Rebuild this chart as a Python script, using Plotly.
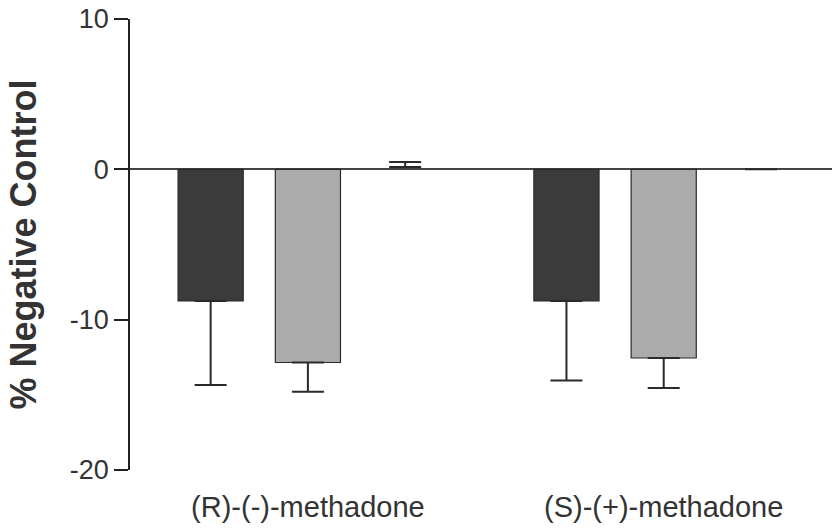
import plotly.graph_objects as go

categories = ["(R)-(-)-methadone", "(S)-(+)-methadone"]
series_names = ["Series A", "Series B", "Series C"]
values_a = [-8.75, -8.75]
errors_a = [5.6, 5.3]
values_b = [-12.85, -12.55]
errors_b = [1.95, 2.0]
values_c = [0.15, 0.0]
errors_c = [0.33, 0.0]
y_ticks = [-20, -10, 0, 10]
y_tick_labels = ["-20", "-10", "0", "10"]

colors = ["#3b3b3b", "#ababab", "rgba(0,0,0,0)"]
line_colors = ["#2a2a2a", "#2a2a2a", "rgba(0,0,0,0)"]

fig = go.Figure()
for name, vals, errs, col, lc in zip(series_names,
                                     [values_a, values_b, values_c],
                                     [errors_a, errors_b, errors_c],
                                     colors, line_colors):
    up = [e if v >= 0 else 0 for v, e in zip(vals, errs)]
    down = [e if v < 0 else 0 for v, e in zip(vals, errs)]
    fig.add_trace(go.Bar(
        x=categories, y=vals, name=name,
        marker=dict(color=col, line=dict(color=lc, width=1.2)),
        error_y=dict(type="data", symmetric=False, array=up, arrayminus=down,
                     color="#2a2a2a", thickness=2, width=16),
    ))

fig.update_layout(
    width=832, height=528,
    margin=dict(l=130, r=0, t=19, b=58),
    paper_bgcolor="white", plot_bgcolor="white",
    barmode="group", bargap=0.18, bargroupgap=0.33,
    showlegend=False,
    font=dict(family="Liberation Sans, Arial, sans-serif", color="#333333"),
)
fig.update_xaxes(
    type="category", range=[-0.50, 1.473], automargin=False,
    showline=False, showgrid=False, zeroline=False,
    ticks="", ticklabelstandoff=17,
    tickfont=dict(size=29, color="#333333"),
)
fig.update_yaxes(
    range=[-20, 10], tickvals=y_ticks, ticktext=y_tick_labels, automargin=False,
    showline=True, linecolor="#222222", linewidth=1.5,
    showgrid=False,
    zeroline=True, zerolinecolor="#444444", zerolinewidth=2,
    ticks="outside", ticklen=14, tickwidth=1.5, tickcolor="#222222",
    tickfont=dict(size=27, color="#333333"),
    title=dict(text="<b>% Negative Control</b>", font=dict(size=36, color="#333333"), standoff=22),
)

fig.write_html("out.html")
